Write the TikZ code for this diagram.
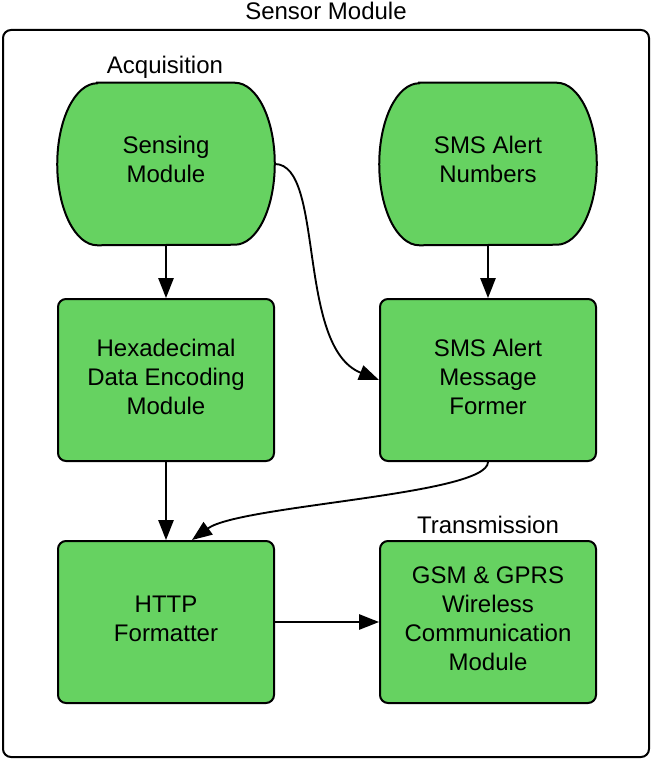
\documentclass[tikz,border=0pt]{standalone}
\usepackage{fontspec}
\setmainfont{Liberation Sans}
\usetikzlibrary{arrows.meta,backgrounds,calc}
\definecolor{boxgreen}{RGB}{102,210,97}

\begin{document}
\begin{tikzpicture}[x=0.75pt,y=-0.75pt,
  txt/.style={font=\fontsize{18}{21.75}\selectfont, align=center, inner sep=0pt},
  block/.style={txt, draw=black, line width=1.5pt, fill=boxgreen, text depth=4.5pt,
    rounded corners=6pt, minimum width=162pt, minimum height=121.5pt},
  term/.style={txt, text depth=7pt, minimum width=162.75pt, minimum height=121.5pt},
  termshape/.style={draw=black, line width=1.5pt, fill=boxgreen},
  frame/.style={draw=black, line width=1.5pt, rounded corners=6pt},
  link/.style={line width=1.4pt, -{Triangle[length=15pt,width=11.5pt]}}]

\useasboundingbox (0,0) rectangle (652,759);

% outer container
\draw[frame] (3,30) rectangle (649,757);

% captions
\node[txt, anchor=base] (title) at (326,20) {Sensor Module};
\node[txt, anchor=base] (acq)   at (165,74) {Acquisition};
\node[txt, anchor=base] (trans) at (488,533) {Transmission};

% terminal-style sources (outline drawn on the background layer)
\node[term] (sense)  at (166,164) {Sensing\\Module};
\node[term] (smsnum) at (488,164) {SMS Alert\\Numbers};

% processing blocks
\node[block] (hex)    at (166,380) {Hexadecimal\\Data Encoding\\Module};
\node[block] (former) at (488,380) {SMS Alert\\Message\\Former};
\node[block] (http)   at (166,622) {HTTP\\Formatter};
\node[block] (gsm)    at (488,622) {GSM \& GPRS\\Wireless\\Communication\\Module};

\begin{scope}[on background layer]
  \foreach \n in {sense,smsnum}
    \draw[termshape] ($(\n.north west)+(40,0)$) -- ($(\n.north east)+(-40,0)$)
      arc[start angle=-90, end angle=90, x radius=40, y radius=81]
      -- ($(\n.south west)+(40,0)$)
      arc[start angle=90, end angle=270, x radius=40, y radius=81] -- cycle;
\end{scope}

% connectors
\draw[link] (sense.south) -- (hex.north);
\draw[link] (smsnum.south) -- (former.north);
\draw[link] (hex.south) -- (http.north);
\draw[link] (http.east) -- (gsm.west);
\draw[link] (sense.east) .. controls (325,164) and (296,347) .. (former.west);
\coordinate (httpin) at ($(http.north)+(26,0)$);
\draw[link] (former.south) .. controls (488,495) and (240,505) .. (httpin);

\end{tikzpicture}
\end{document}
